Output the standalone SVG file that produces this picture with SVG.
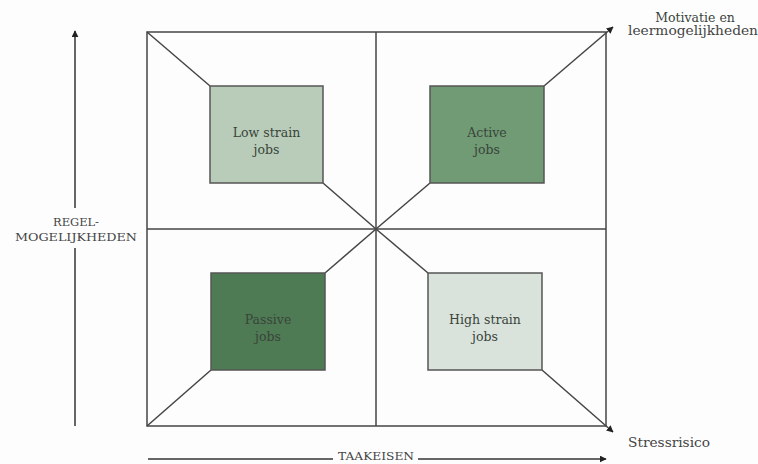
<svg xmlns="http://www.w3.org/2000/svg" width="758" height="464" viewBox="0 0 758 464">
<defs>
<marker id="ah" viewBox="0 0 10 10" refX="9" refY="5" markerWidth="7" markerHeight="7" orient="auto" markerUnits="userSpaceOnUse">
<path d="M0,0 L10,5 L0,10 z" fill="#222"/>
</marker>
<style>
.ln{stroke:#454545;stroke-width:1.5;fill:none}
.ax{stroke:#333;stroke-width:1.5;fill:none}
.box{stroke:#555;stroke-width:1.5}
.t{font-family:"DejaVu Serif","Liberation Serif",serif;font-size:12.5px;fill:#3a443a;text-anchor:middle}
.tl{font-family:"DejaVu Serif","Liberation Serif",serif;font-size:12px;fill:#444}
.cap{font-family:"DejaVu Serif","Liberation Serif",serif;font-size:11.5px;fill:#444;text-anchor:middle}
</style>
</defs>
<rect width="758" height="464" fill="#fdfdfd"/>
<g id="connectors">
<rect class="ln" x="147" y="32" width="459" height="394"/>
<line class="ln" x1="376" y1="32" x2="376" y2="426"/>
<line class="ln" x1="147" y1="229" x2="606" y2="229"/>
<line class="ln" x1="147" y1="32" x2="210" y2="86"/>
<line class="ln" x1="323" y1="183" x2="376" y2="229"/>
<line class="ln" x1="376" y1="229" x2="430" y2="183"/>
<line class="ln" x1="544" y1="86" x2="613" y2="27" marker-end="url(#ah)"/>
<line class="ln" x1="376" y1="229" x2="325" y2="273"/>
<line class="ln" x1="211" y1="370" x2="147" y2="426"/>
<line class="ln" x1="376" y1="229" x2="428" y2="273"/>
<line class="ln" x1="542" y1="370" x2="613" y2="432" marker-end="url(#ah)"/>
<line class="ax" x1="75" y1="208" x2="75" y2="31" marker-end="url(#ah)"/>
<line class="ax" x1="75" y1="248" x2="75" y2="426"/>
<line class="ax" x1="148" y1="459" x2="333" y2="459"/>
<line class="ax" x1="418" y1="459" x2="606" y2="459" marker-end="url(#ah)"/>
</g>
<g id="low-strain">
<rect class="box" x="210" y="86" width="113" height="97" fill="#b8ccb9"/>
<text class="t" x="266.5" y="137">Low strain</text>
<text class="t" x="266.5" y="154">jobs</text>
</g>
<g id="active">
<rect class="box" x="430" y="86" width="114" height="97" fill="#709b75"/>
<text class="t" x="487" y="137">Active</text>
<text class="t" x="487" y="154">jobs</text>
</g>
<g id="passive">
<rect class="box" x="211" y="273" width="114" height="97" fill="#4e7b54"/>
<text class="t" x="268" y="324" fill="#26382a">Passive</text>
<text class="t" x="268" y="341" fill="#26382a">jobs</text>
</g>
<g id="high-strain">
<rect class="box" x="428" y="273" width="114" height="97" fill="#d9e3dc"/>
<text class="t" x="485" y="324">High strain</text>
<text class="t" x="485" y="341">jobs</text>
</g>
<g id="labels">
<text class="t" x="695" y="22" font-size="12">Motivatie en</text>
<text class="tl" x="628" y="35" textLength="130" lengthAdjust="spacingAndGlyphs">leermogelijkheden</text>
<text class="tl" x="628" y="447" textLength="82" lengthAdjust="spacingAndGlyphs">Stressrisico</text>
<text class="cap" x="76" y="226" textLength="46" lengthAdjust="spacingAndGlyphs">REGEL-</text>
<text class="cap" x="76" y="241" textLength="122" lengthAdjust="spacingAndGlyphs">MOGELIJKHEDEN</text>
<text class="cap" x="376" y="460" font-size="11" textLength="76" lengthAdjust="spacingAndGlyphs">TAAKEISEN</text>
</g>
</svg>
